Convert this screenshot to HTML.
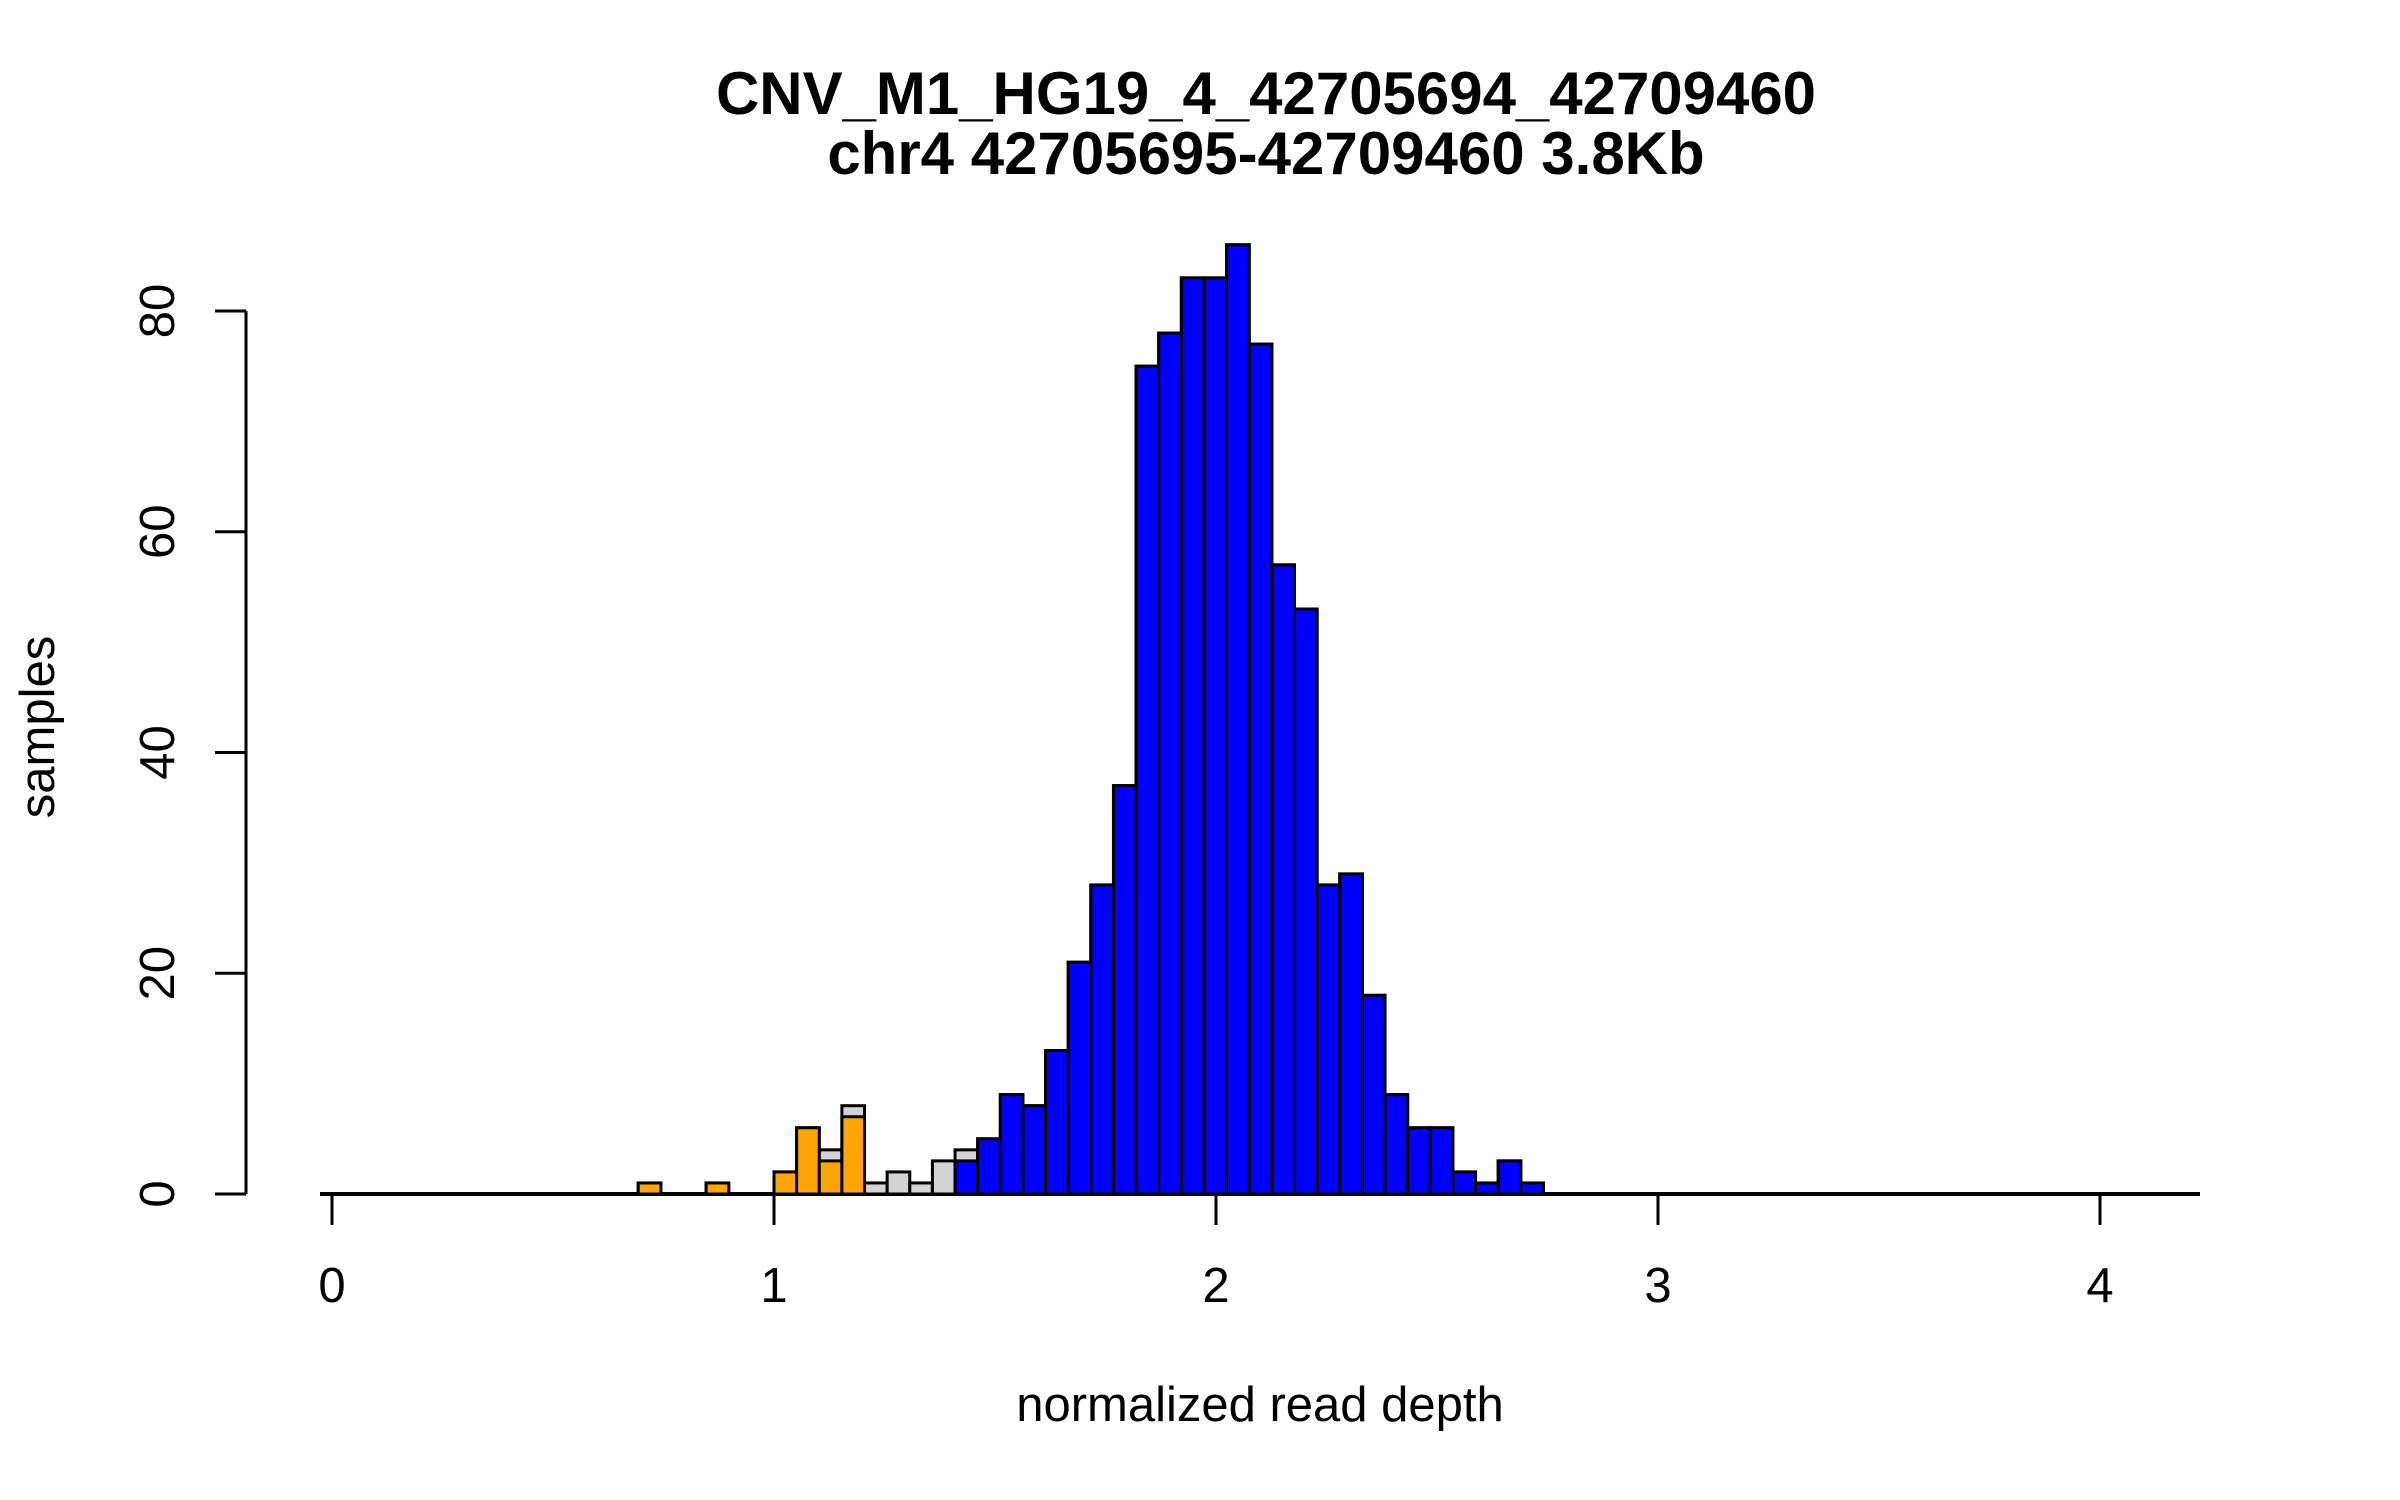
<!DOCTYPE html>
<html><head><meta charset="utf-8"><style>
html,body{margin:0;padding:0;background:#fff;}
svg{display:block;}
text{font-family:"Liberation Sans",sans-serif;fill:#000;}
</style></head><body>
<svg id="chart" width="2400" height="1500" viewBox="0 0 2400 1500" xmlns="http://www.w3.org/2000/svg">
<text x="1266" y="114" font-size="60" font-weight="bold" text-anchor="middle" textLength="1100" lengthAdjust="spacingAndGlyphs">CNV_M1_HG19_4_42705694_42709460</text>
<text x="1266" y="174" font-size="60" font-weight="bold" text-anchor="middle">chr4 42705695-42709460 3.8Kb</text>
<text x="1260" y="1421" font-size="49" text-anchor="middle">normalized read depth</text>
<text transform="translate(54,727) rotate(-90)" font-size="49" text-anchor="middle">samples</text>
<g id="bars"></g>
<g id="axes"></g>
</svg>
<script>
// bins: index k -> left edge = binOrigin + k*binWidth
const binOrigin = 1.0;
const binWidth = 0.0512;
const binIndex = [-6,-5,-4,-3,-2,-1,0,1,2,3,4,5,6,7,8,9,10,11,12,13,14,15,16,17,18,19,20,21,22,23,24,25,26,27,28,29,30,31,32,33];
const totalCounts = [1,0,0,1,0,0,2,6,4,8,1,2,1,3,4,5,9,8,13,21,28,37,75,78,83,83,86,77,57,53,28,29,18,9,6,6,2,1,3,1];
const orangeCounts = [1,0,0,1,0,0,2,6,3,7,0,0,0,0,0,0,0,0,0,0,0,0,0,0,0,0,0,0,0,0,0,0,0,0,0,0,0,0,0,0];
const blueCounts = [0,0,0,0,0,0,0,0,0,0,0,0,0,0,3,5,9,8,13,21,28,37,75,78,83,83,86,77,57,53,28,29,18,9,6,6,2,1,3,1];
const xTicks = [0,1,2,3,4];
const yTicks = [0,20,40,60,80];

const NS = "http://www.w3.org/2000/svg";
function xs(v){ return 332 + v*442; }
function ys(v){ return 1194 - v*(883/80); }
const bars = document.getElementById('bars');
const axes = document.getElementById('axes');
function mk(tag, attrs, parent){
  const e = document.createElementNS(NS, tag);
  for (const k in attrs) e.setAttribute(k, attrs[k]);
  parent.appendChild(e);
  return e;
}
const base = mk('line', {x1:320, x2:2200, y1:ys(0), y2:ys(0), stroke:'#000','stroke-width':4}, bars);



function drawSeries(counts, color, name){
  for (let i=0;i<binIndex.length;i++){
    const c = counts[i];
    if (!c) continue;
    const x0 = xs(binOrigin + binIndex[i]*binWidth);
    const x1 = xs(binOrigin + (binIndex[i]+1)*binWidth);
    const r = mk('rect', {x:x0, y:ys(c), width:x1-x0, height:ys(0)-ys(c), fill:color, stroke:'#000','stroke-width':3}, bars);
    
    
  }
}
drawSeries(totalCounts, '#d3d3d3', 'bar-all');
drawSeries(orangeCounts, '#ffa500', 'bar-deletion');
drawSeries(blueCounts, '#0000ff', 'bar-normal');

const xl = mk('line', {x1:xs(xTicks[0]), x2:xs(xTicks[xTicks.length-1]), y1:1194, y2:1194, stroke:'#000','stroke-width':3}, axes);


xTicks.forEach(t=>{
  const tk = mk('line', {x1:xs(t), x2:xs(t), y1:1194, y2:1225, stroke:'#000','stroke-width':3}, axes);
  
  
  const lb = mk('text', {x:xs(t), y:1302, 'font-size':49, 'text-anchor':'middle'}, axes);
  lb.textContent = t;
  
  
});
const yl = mk('line', {x1:246, x2:246, y1:ys(yTicks[0]), y2:ys(yTicks[yTicks.length-1]), stroke:'#000','stroke-width':3}, axes);


yTicks.forEach(t=>{
  const tk = mk('line', {x1:215, x2:246, y1:ys(t), y2:ys(t), stroke:'#000','stroke-width':3}, axes);
  
  
  const lb = mk('text', {transform:'translate(174,'+ys(t)+') rotate(-90)', 'font-size':49, 'text-anchor':'middle'}, axes);
  lb.textContent = t;
  
  
});
</script>
</body></html>
